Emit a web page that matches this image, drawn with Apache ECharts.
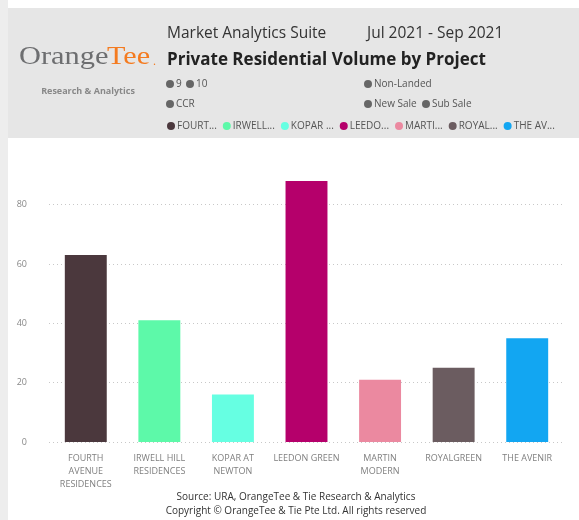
<!DOCTYPE html>
<html><head><meta charset="utf-8">
<script src="https://cdn.jsdelivr.net/npm/echarts@6/dist/echarts.min.js"></script>
<style>html,body{margin:0;padding:0;background:#fff}#c{width:579px;height:520px}</style>
</head><body><div id="c"></div>
<script>
const categories = ['FOURTH AVENUE RESIDENCES','IRWELL HILL RESIDENCES','KOPAR AT NEWTON','LEEDON GREEN','MARTIN MODERN','ROYALGREEN','THE AVENIR'];
const tickLabels = ['FOURTH\nAVENUE\nRESIDENCES','IRWELL HILL\nRESIDENCES','KOPAR AT\nNEWTON','LEEDON GREEN','MARTIN\nMODERN','ROYALGREEN','THE AVENIR'];
const legendLabels = ['FOURT...','IRWELL...','KOPAR ...','LEEDO...','MARTI...','ROYAL...','THE AV...'];
const volumes = [63, 41, 16, 88, 21, 25, 35];
const colors = ['#4B383D','#5DF9A9','#66FFE2','#B5006B','#EB89A0','#6B5C60','#12A6F2'];

const F = '"Open Sans", "Noto Sans", sans-serif';
const chart = echarts.init(document.getElementById('c'), null, {renderer:'canvas'});
const series = categories.map((name,i)=>({
  name, type:'bar', stack:'all', barWidth:'57%',
  itemStyle:{color:colors[i]},
  data: volumes.map((v,j)=> j===i ? v : '-')
}));
function dotText(x,y,t){
  return [{type:'circle',shape:{cx:x+4,cy:y,r:4},style:{fill:'#666'}},
          {type:'text',x:x+10,y:y,style:{text:t,font:'10px '+F,fill:'#555',textVerticalAlign:'middle'}}];
}
chart.setOption({
  animation:false,
  color:colors,
  grid:{left:49,right:15,top:175,bottom:78},
  xAxis:{type:'category',data:categories,
    axisLine:{show:false},axisTick:{show:false},
    axisLabel:{interval:0,margin:10,color:'#808080',fontSize:9,fontFamily:F,lineHeight:13,
      formatter:(v,i)=>tickLabels[i]}},
  yAxis:{type:'value',min:0,max:90,interval:20,
    axisLabel:{showMaxLabel:false,color:'#888',fontSize:9,fontFamily:F,margin:22},
    splitLine:{showMaxLine:false,lineStyle:{type:[1,3],color:'#c8c8c8'}}},
  legend:{left:162,top:116,icon:'circle',itemWidth:8,itemHeight:8,itemGap:6,
    textStyle:{fontSize:10,fontFamily:F,color:'#555',padding:[0,0,0,-3]},
    formatter:n=>legendLabels[categories.indexOf(n)]},
  graphic:[
    {type:'rect',shape:{x:0,y:0,width:8,height:520},style:{fill:'#ededed'},z:-1},
    {type:'rect',shape:{x:8,y:8,width:571,height:130},style:{fill:'#e6e6e6'},z:-1},
    {type:'text',x:19,y:57,scaleX:1.17,style:{text:'Orange',font:'26px "Liberation Serif", serif',fill:'#6d6e70',textVerticalAlign:'middle'}},
    {type:'text',x:107,y:57,scaleX:1.16,style:{text:'Tee',font:'26px "Liberation Serif", serif',fill:'#f47b20',textVerticalAlign:'middle'}},
    {type:'text',x:153,y:62,style:{text:'.',font:'12px "Liberation Serif", serif',fill:'#f47b20',textVerticalAlign:'middle'}},
    {type:'text',x:88,y:91,style:{text:'Research & Analytics',font:'bold 9px '+F,fill:'#888',align:'center',textVerticalAlign:'middle'}},
    {type:'text',x:167,y:34,style:{text:'Market Analytics Suite',font:'15.5px '+F,fill:'#333',textVerticalAlign:'middle'}},
    {type:'text',x:367,y:34,style:{text:'Jul 2021 - Sep 2021',font:'15.5px '+F,fill:'#333',textVerticalAlign:'middle'}},
    {type:'text',x:167,y:60,style:{text:'Private Residential Volume by Project',font:'bold 17px '+F,fill:'#222',textVerticalAlign:'middle'}},
    ...dotText(166,84,'9'), ...dotText(186,84,'10'),
    ...dotText(364,84,'Non-Landed'),
    ...dotText(166,104,'CCR'),
    ...dotText(364,104,'New Sale'), ...dotText(422,104,'Sub Sale'),
    {type:'text',x:296,y:497,style:{text:'Source: URA, OrangeTee & Tie Research & Analytics',font:'10px '+F,fill:'#333',align:'center',textVerticalAlign:'middle'}},
    {type:'text',x:296,y:511,style:{text:'Copyright © OrangeTee & Tie Pte Ltd. All rights reserved',font:'10px '+F,fill:'#333',align:'center',textVerticalAlign:'middle'}}
  ],
  series
});
</script></body></html>
